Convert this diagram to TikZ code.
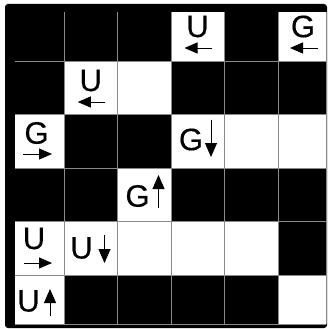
\documentclass[tikz,border=0pt]{standalone}
\usepackage{fontspec}
\setmainfont{Liberation Sans}
\newfontfamily\lblfont[FakeBold=0.4]{Liberation Sans}
\usepackage{tikz}
\usetikzlibrary{arrows.meta,calc}
\definecolor{gridgray}{HTML}{8A8A8A}
\def\xs{{15,64,117.5,171,224.5,278,326}}
\def\ys{{12,61,114.5,168,221.5,275,324}}

\begin{document}
\begin{tikzpicture}[x=1pt,y=-1pt,
  lbl/.style={inner sep=0pt,font=\lblfont\fontsize{31}{33}\selectfont,text=black},
  harr/.style={-{Triangle[length=13pt,width=11pt]},line width=0.9pt},
  varr/.style={-{Triangle[length=14pt,width=12pt]},line width=0.9pt},
  gridline/.style={color=gridgray,line width=0.8pt},
]
  \useasboundingbox (0,0) rectangle (327,329);
  \fill[black,rounded corners=3pt] (5,4) rectangle (327,328);
  % white cells (row/col)
  \foreach \r/\c in {1/4,1/6,2/2,2/3,3/1,3/4,3/5,3/6,4/3,5/1,5/2,5/3,5/4,5/5,6/1,6/6}{
    \pgfmathsetmacro\xa{\xs[\c-1]}\pgfmathsetmacro\xb{\xs[\c]}
    \pgfmathsetmacro\ya{\ys[\r-1]}\pgfmathsetmacro\yb{\ys[\r]}
    \fill[white] (\xa,\ya) rectangle (\xb,\yb);
  }
  \foreach \i in {1,...,6}{
    \pgfmathsetmacro\xa{\xs[\i]}\pgfmathsetmacro\ya{\ys[\i]}
    \draw[gridline] (\xa,12) -- (\xa,324);
    \draw[gridline] (15,\ya) -- (326,\ya);
  }
  % letters with arrows
  \node[lbl] (u14) at (197.5,26.5) {U};
  \draw[harr] ($(u14)+(14.5,21.5)$) -- ($(u14)+(-13,21.5)$);
  \node[lbl] (g16) at (303,26.5) {G};
  \draw[harr] ($(g16)+(14.5,21.5)$) -- ($(g16)+(-13,21.5)$);
  \node[lbl] (u22) at (90.75,80.5) {U};
  \draw[harr] ($(u22)+(14.5,21.5)$) -- ($(u22)+(-13,21.5)$);
  \node[lbl] (g31) at (36.5,133) {G};
  \draw[harr] ($(g31)+(-13.5,21)$) -- ($(g31)+(15.5,21)$);
  \node[lbl] (g34) at (191,139.5) {G};
  \draw[varr] ($(g34)+(20,-20)$) -- ($(g34)+(20,17.5)$);
  \node[lbl] (g43) at (137.5,196) {G};
  \draw[varr] ($(g43)+(21,12)$) -- ($(g43)+(21,-21)$);
  \node[lbl] (u51) at (34,238.5) {U};
  \draw[harr] ($(u51)+(-10,24.5)$) -- ($(u51)+(18,24.5)$);
  \node[lbl] (u52) at (81.5,248) {U};
  \draw[varr] ($(u52)+(23,-13)$) -- ($(u52)+(23,15)$);
  \node[lbl] (u61) at (28.5,301) {U};
  \draw[varr] ($(u61)+(21.5,15)$) -- ($(u61)+(21.5,-12)$);
\end{tikzpicture}
\end{document}
